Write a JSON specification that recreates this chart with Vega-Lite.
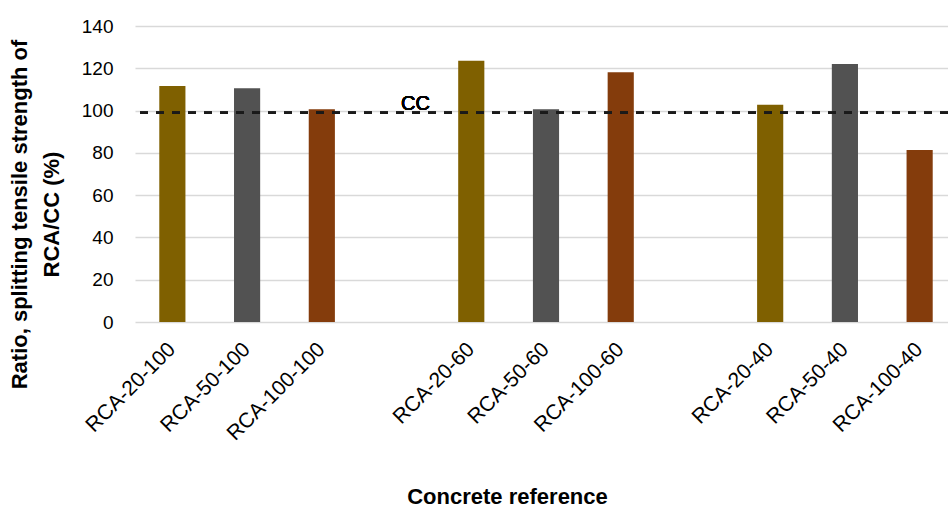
{
  "$schema": "https://vega.github.io/schema/vega-lite/v6.json",
  "autosize": {"type": "none"},
  "padding": {"left": 135, "top": 26, "right": 0, "bottom": 185},
  "width": 813,
  "height": 296,
  "background": "white",
  "config": {
    "view": {"stroke": null},
    "font": "Liberation Sans"
  },
  "data": {
    "values": [
      {"ref": "RCA-20-100", "value": 111.6, "series": "RCA-20"},
      {"ref": "RCA-50-100", "value": 110.5, "series": "RCA-50"},
      {"ref": "RCA-100-100", "value": 100.6, "series": "RCA-100"},
      {"ref": "RCA-20-60", "value": 123.6, "series": "RCA-20"},
      {"ref": "RCA-50-60", "value": 100.6, "series": "RCA-50"},
      {"ref": "RCA-100-60", "value": 118.1, "series": "RCA-100"},
      {"ref": "RCA-20-40", "value": 102.8, "series": "RCA-20"},
      {"ref": "RCA-50-40", "value": 122.0, "series": "RCA-50"},
      {"ref": "RCA-100-40", "value": 81.4, "series": "RCA-100"}
    ]
  },
  "layer": [
    {
      "mark": {"type": "bar"},
      "encoding": {
        "x": {
          "field": "ref",
          "type": "nominal",
          "sort": null,
          "scale": {
            "domain": ["RCA-20-100", "RCA-50-100", "RCA-100-100", "gap1", "RCA-20-60", "RCA-50-60", "RCA-100-60", "gap2", "RCA-20-40", "RCA-50-40", "RCA-100-40"],
            "range": [0, 822],
            "paddingInner": 0.65,
            "paddingOuter": 0.325
          },
          "axis": {
            "title": "Concrete reference",
            "titleFont": "Liberation Sans",
            "titleFontSize": 22,
            "titleFontWeight": "bold",
            "titleColor": "black",
            "titleX": 372,
            "titleY": 181,
            "titleBaseline": "alphabetic",
            "titleAnchor": "middle",
            "titleAlign": "center",
            "labelExpr": "indexof(datum.value, 'gap') == 0 ? '' : datum.value",
            "labelAngle": -45,
            "labelAlign": "right",
            "labelBaseline": "middle",
            "labelPadding": 24,
            "labelFontSize": 21,
            "labelColor": "black",
            "labelOverlap": false,
            "ticks": false,
            "domain": false,
            "grid": false
          }
        },
        "y": {
          "field": "value",
          "type": "quantitative",
          "scale": {"domain": [0, 140], "nice": false},
          "axis": {
            "values": [0, 20, 40, 60, 80, 100, 120, 140],
            "title": ["Ratio, splitting tensile strength of", "RCA/CC (%)"],
            "titleFontSize": 22,
            "titleFontWeight": "bold",
            "titleColor": "black",
            "titleLineHeight": 32,
            "titleX": -126,
            "titleY": 188,
            "titleAngle": -90,
            "titleBaseline": "top",
            "titleAlign": "center",
            "labelFontSize": 19,
            "labelColor": "black",
            "labelPadding": 22,
            "ticks": false,
            "domain": false,
            "grid": true,
            "gridColor": "#d9d9d9",
            "gridWidth": 1.5
          }
        },
        "color": {
          "field": "series",
          "type": "nominal",
          "scale": {"domain": ["RCA-20", "RCA-50", "RCA-100"], "range": ["#7f6000", "#525252", "#843c0c"]},
          "legend": null
        }
      }
    },
    {
      "mark": {"type": "rule", "stroke": "#1a1a1a", "strokeWidth": 2, "strokeDash": [8, 8]},
      "encoding": {"y": {"datum": 99, "type": "quantitative"}}
    },
    {
      "mark": {"type": "text", "fontSize": 20, "fontWeight": "normal", "color": "black", "align": "center", "baseline": "alphabetic", "dx": 19, "dy": -3},
      "encoding": {
        "x": {"datum": "gap1", "type": "nominal"},
        "y": {"datum": 99, "type": "quantitative"},
        "text": {"value": "CC"}
      }
    }
  ]
}
